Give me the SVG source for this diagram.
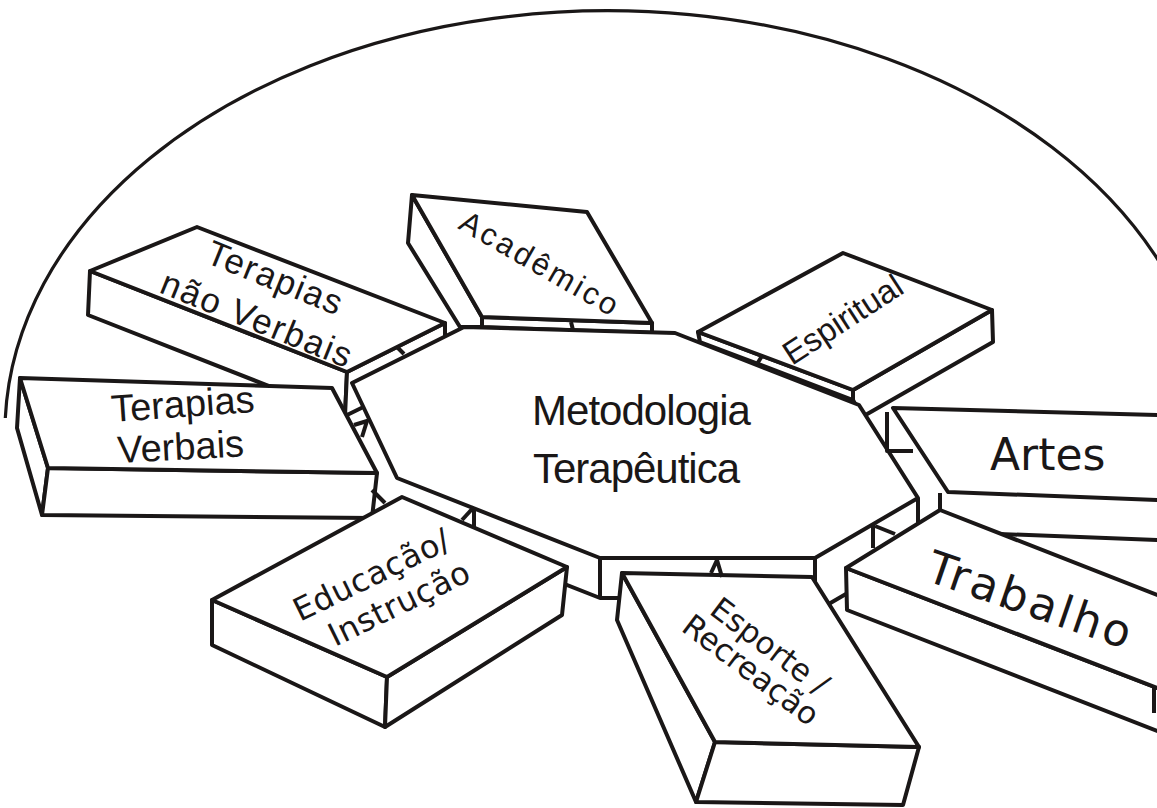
<svg xmlns="http://www.w3.org/2000/svg" width="1157" height="808" viewBox="0 0 1157 808">
<style>
.f{fill:#fff;stroke:#1a1717;stroke-width:4;stroke-linejoin:round}
.nf{fill:#fff;stroke:none}
.l{fill:none;stroke:#1a1717;stroke-width:4;stroke-linecap:butt;stroke-linejoin:round}
.a{fill:#1a1717;font-family:"Liberation Sans",Arial,sans-serif}
.g{fill:#1a1717;font-family:"DejaVu Sans","Liberation Sans",sans-serif}
</style>
<rect width="1157" height="808" fill="#fff"/>
<path id="arc" class="l" style="stroke-width:3.2" d="M 5.3 418 A 603 422 0 0 1 1159.4 262"/>

<g id="terapias-nao-verbais">
<polygon class="f" points="90,271 347,372 345,416 88,315"/>
<polygon class="f" points="347,372 445,323 445,367 345,416"/>
<polygon class="f" points="90,271 197,227 445,323 347,372"/>
<text class="a" font-size="35" letter-spacing="1.5" transform="translate(204,262) rotate(22)">Terapias</text>
<text class="a" font-size="35" letter-spacing="1.8" transform="translate(158,292) rotate(22)">não Verbais</text>
</g>

<g id="academico">
<polygon class="f" points="412,195 482,317 482,327 460,327 408,243"/>
<polygon class="f" points="482,317 652,323 652,333 482,327"/>
<polygon class="f" points="412,195 587,212 652,323 482,317"/>
<text class="a" font-size="31" letter-spacing="3" transform="translate(457,228) rotate(30)">Acadêmico</text>
</g>

<g id="espiritual">
<polygon class="f" points="698,332 853,390 853,400 700,342"/>
<polygon class="f" points="853,390 992,310 993,342 862,417 853,400"/>
<polygon class="f" points="698,332 843,253 992,310 853,390"/>
<text class="a" font-size="33" transform="translate(792,366) rotate(-33)">Espiritual</text>
</g>

<g id="artes">
<polygon class="nf" points="948,492 1160,500 1160,540 948,532"/>
<line class="l" x1="948" y1="532" x2="1160" y2="540"/>
<polygon class="f" points="893,408 1160,415 1160,500 948,492"/>
<text class="g" font-size="44" x="990" y="470">Artes</text>
</g>

<g id="metodologia">
<polygon class="nf" points="397,478 600,558 600,598 397,518"/>
<polygon class="nf" points="600,558 815,558 815,598 600,598"/>
<polygon class="nf" points="815,558 918,498 918,552 815,612"/>
<polyline class="l" points="397,518 600,598 815,598"/>
<line class="l" x1="600" y1="558" x2="600" y2="598"/>
<line class="l" x1="815" y1="558" x2="815" y2="612"/>
<polyline class="l" points="815,612 918,552 918,498"/>
<polygon class="f" points="464,327 675,333 859,405 918,498 815,558 600,558 397,478 352,383"/>
<text class="a" font-size="42" letter-spacing="-1" text-anchor="middle" x="641" y="425">Metodologia</text>
<text class="a" font-size="42" letter-spacing="-1" text-anchor="middle" x="636" y="483">Terapêutica</text>
</g>

<g id="terapias-verbais">
<polygon class="f" points="20,378 48,468 42,515 17,428"/>
<polygon class="f" points="48,468 377,473 372,518 42,515"/>
<polygon class="f" points="20,378 332,388 377,473 48,468"/>
<text class="a" font-size="38" transform="translate(112,422) rotate(-4)">Terapias</text>
<text class="a" font-size="38" transform="translate(118,463) rotate(-3)">Verbais</text>
</g>

<g id="educacao">
<polygon class="f" points="212,600 387,677 385,727 212,645"/>
<polygon class="f" points="387,677 567,567 562,615 385,727"/>
<polygon class="f" points="212,600 402,497 567,567 387,677"/>
<text class="g" font-size="32" letter-spacing="0.5" transform="translate(300,622) rotate(-26)">Educação/</text>
<text class="g" font-size="32" letter-spacing="0.5" transform="translate(335,647) rotate(-26)">Instrução</text>
</g>

<g id="esporte">
<polygon class="f" points="622,573 715,742 696,802 617,620"/>
<polygon class="f" points="715,742 919,747 903,805 696,802"/>
<polygon class="f" points="622,573 812,577 919,747 715,742"/>
<text class="g" font-size="31" transform="translate(708,613) rotate(37)">Esporte /</text>
<text class="g" font-size="31" transform="translate(680,630) rotate(37)">Recreação</text>
</g>

<g id="trabalho">
<polygon class="f" points="846,568 1160,689 1160,732 847,610"/>
<polygon class="f" points="846,568 940,510 1160,596 1160,689"/>
<line class="l" x1="1154" y1="687" x2="1154" y2="713"/>
<text class="g" font-size="45" letter-spacing="3" transform="translate(924,580) rotate(19)">Trabalho</text>
</g>

<g id="connectors">
<line class="l" x1="397" y1="347" x2="404" y2="354"/>
<line class="l" x1="571" y1="322" x2="573" y2="330"/>
<line class="l" x1="762" y1="356" x2="757" y2="364"/>
<polyline class="l" points="887,412 887,451 913,451"/>
<line class="l" x1="940" y1="493" x2="940" y2="510"/>
<polyline class="l" points="354,425 367,421 362,437"/>
<line class="l" x1="372" y1="490" x2="385" y2="503"/>
<line class="l" x1="474" y1="508" x2="474" y2="527"/>
<line class="l" x1="462" y1="520" x2="474" y2="507"/>
<polyline class="l" points="711,573 717,560 722,577"/>
<line class="l" x1="873" y1="525" x2="873" y2="548"/>
<line class="l" x1="875" y1="526" x2="895" y2="534"/>
</g>
</svg>
